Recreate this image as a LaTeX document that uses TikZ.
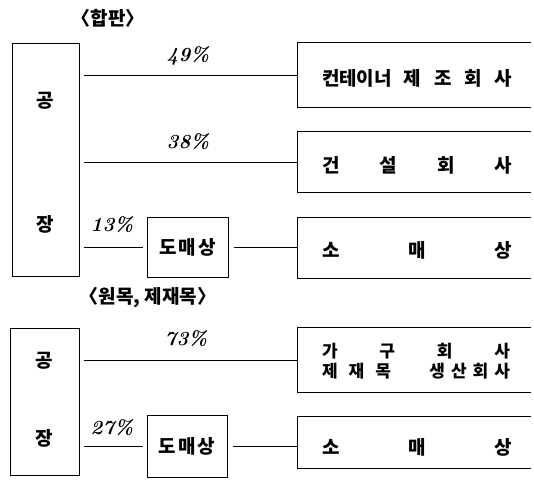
\documentclass[tikz,border=0pt]{standalone}
\usepackage{fontspec}
\newfontfamily\kr{Noto Sans CJK KR}
\begin{document}
\begin{tikzpicture}[x=1pt,y=-1pt, line width=1pt,
  kt/.style={font=\kr\bfseries\fontsize{19pt}{21pt}\selectfont, inner sep=0},
  ks/.style={font=\kr\bfseries\fontsize{17pt}{20pt}\selectfont, inner sep=0, align=left},
  pct/.style={font=\fontsize{20pt}{22pt}\selectfont\bfseries\itshape, inner sep=0},
  frame/.style={draw, inner sep=0},
  openbox/.style={inner sep=0, minimum width=232pt},
  gapped/.style={shorten <=4pt, shorten >=4pt}]
\useasboundingbox (0,0) rectangle (534,479);
% ---------- section 1
\node[kt] (t1) at (108,18) {〈합판〉};
\node[frame, minimum width=67pt, minimum height=233pt] (f1) at (45.5,159.5) {};
\node[kt] (f1a) at (45.5,101) {공};
\node[kt] (f1b) at (45.5,224) {장};

\node[openbox, minimum height=64pt] (r1) at (414,75) {};
\node[openbox, minimum height=60pt] (r2) at (414,162) {};
\node[openbox, minimum height=60pt] (r3) at (414,248) {};
\foreach \b in {r1,r2,r3}
  \draw (\b.north east) -- (\b.north west) -- (\b.south west) -- (\b.south east);
\node[kt] (r1t) at (417,78) {\makebox[190pt]{컨테이너\hspace{12pt}제\hfill 조\hfill 회\hfill 사}};
\node[kt] (r2t) at (417,165) {\makebox[190pt]{건\hfill 설\hfill 회\hfill 사}};
\node[kt] (r3t) at (417,250) {\makebox[190pt]{소\hfill 매\hfill 상}};

\node[frame, kt, minimum width=81pt, minimum height=60pt] (w1) at (187.5,247) {도\hspace{2pt}매\hspace{2pt}상};

\draw[shorten <=4pt] (f1.east |- r1.west) -- (r1.west);
\draw[shorten <=4pt] (f1.east |- r2.west) -- (r2.west);
\draw[gapped] (f1.east |- w1.west) -- (w1.west);
\draw[shorten <=5pt] (w1.east) -- (w1.east -| r3.west);

\node[pct] (p1) at (188,56) {49\%};
\node[pct] (p2) at (188,142) {38\%};
\node[pct] (p3) at (112,225) {13\%};

% ---------- section 2
\node[kt] (t2) at (148,298) {〈원목, 제재목〉};
\node[frame, minimum width=69pt, minimum height=147pt] (f2) at (44.5,401.5) {};
\node[kt] (f2a) at (44.5,361) {공};
\node[kt] (f2b) at (44.5,438) {장};

\node[openbox, minimum height=64pt] (r4) at (414,360) {};
\node[openbox, minimum height=51pt] (r5) at (414,442.5) {};
\foreach \b in {r4,r5}
  \draw (\b.north east) -- (\b.north west) -- (\b.south west) -- (\b.south east);
\node[ks] (r4t) at (416,361) {\makebox[188pt]{가\hfill 구\hfill 회\hfill 사}\\
  \makebox[188pt]{제\hspace{11pt}재\hspace{11pt}목\hfill 생\hspace{6pt}산\hspace{6pt}회\hspace{6pt}사}};
\node[kt] (r5t) at (417,447) {\makebox[190pt]{소\hfill 매\hfill 상}};

\node[frame, kt, minimum width=80pt, minimum height=62pt] (w2) at (187,446) {도\hspace{2pt}매\hspace{2pt}상};

\draw[shorten <=4pt] (f2.east |- r4.west) -- (r4.west);
\draw[gapped] (f2.east |- w2.west) -- (w2.west);
\draw[shorten <=5pt] (w2.east) -- (w2.east -| r5.west);

\node[pct] (p4) at (186,339) {73\%};
\node[pct] (p5) at (112,428) {27\%};
\end{tikzpicture}
\end{document}
